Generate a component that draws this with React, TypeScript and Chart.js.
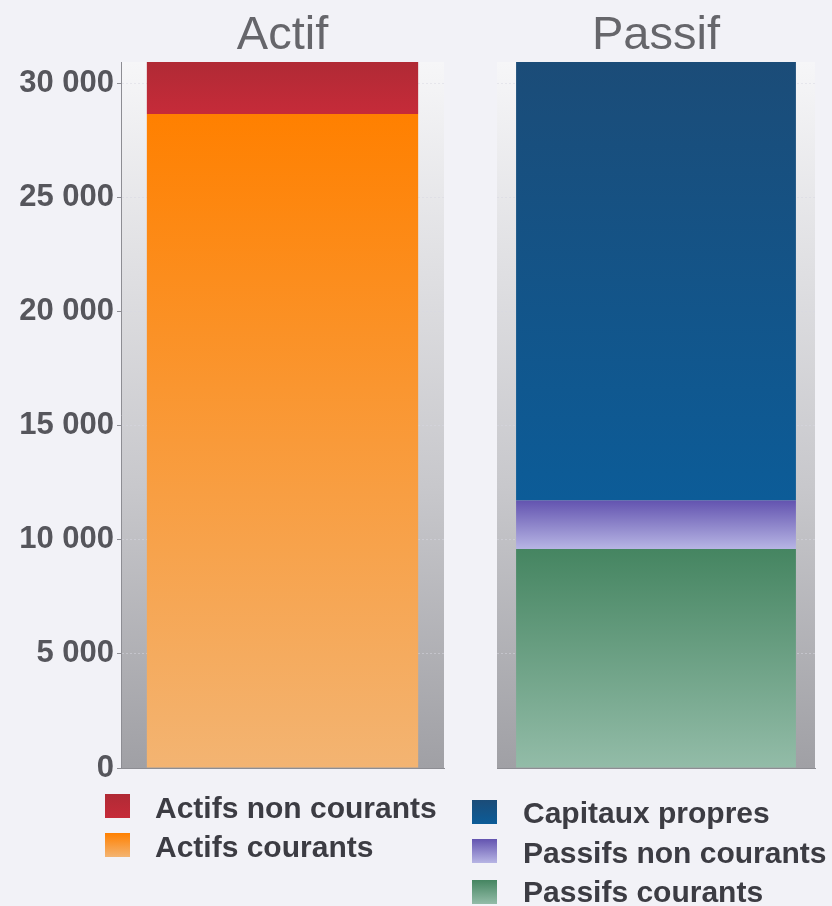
import React, { useEffect, useRef } from 'react';
import { Chart, registerables } from 'chart.js';

Chart.register(...registerables);
Chart.defaults.font.family = "'Liberation Sans', Arial, sans-serif";

// ---- Data ----
const TITLES = ['Actif', 'Passif'];
const CATEGORY = [''];
const ACTIF_SERIES = ['Actifs courants', 'Actifs non courants'];
const ACTIF_VALUES = [28640, 2280];
const PASSIF_SERIES = ['Passifs courants', 'Passifs non courants', 'Capitaux propres'];
const PASSIF_VALUES = [9590, 2120, 19210];
const Y_TICKS = [0, 5000, 10000, 15000, 20000, 25000, 30000];
const Y_MAX = 30920;

// ---- Styles ----
const ACTIF_COLORS = [
  ['#ff8000', '#f3b472'],
  ['#b02a35', '#c62b39'],
];
const PASSIF_COLORS = [
  ['#458561', '#93bca8'],
  ['#6354b0', '#b7b5e4'],
  ['#1b4c78', '#0c5c98'],
];
const ACTIF_LEGEND_ORDER = [1, 0];
const PASSIF_LEGEND_ORDER = [2, 1, 0];

const BG = '#f2f2f7';

const fmt = (v: number) => String(v).replace(/\B(?=(\d{3})+(?!\d))/g, ' ');

type PanelCfg = {
  left: number;
  width: number;
  title: string;
  series: string[];
  values: number[];
  colors: string[][];
  legendOrder: number[];
  padding: { left: number; right: number; top: number; bottom: number };
  barPct: number;
  showAxis: boolean;
  legend: { boxX: number; boxTops: number[]; textX: number; baselines: number[] };
};

const PANELS: PanelCfg[] = [
  {
    left: 0,
    width: 450,
    title: TITLES[0],
    series: ACTIF_SERIES,
    values: ACTIF_VALUES,
    colors: ACTIF_COLORS,
    legendOrder: ACTIF_LEGEND_ORDER,
    padding: { left: 0, right: 6, top: 62, bottom: 138 },
    barPct: 0.84,
    showAxis: true,
    legend: { boxX: 105, boxTops: [794, 833], textX: 155, baselines: [818, 857] },
  },
  {
    left: 450,
    width: 382,
    title: TITLES[1],
    series: PASSIF_SERIES,
    values: PASSIF_VALUES,
    colors: PASSIF_COLORS,
    legendOrder: PASSIF_LEGEND_ORDER,
    padding: { left: 47, right: 17, top: 62, bottom: 138 },
    barPct: 0.88,
    showAxis: false,
    legend: { boxX: 22, boxTops: [800, 839, 880], textX: 73, baselines: [823, 863, 902] },
  },
];

function Panel({ cfg }: { cfg: PanelCfg }) {
  const ref = useRef<HTMLCanvasElement | null>(null);

  useEffect(() => {
    if (!ref.current) return;
    const starts: number[] = [];
    let acc = 0;
    cfg.values.forEach((v) => {
      starts.push(acc);
      acc += v;
    });

    const datasets = cfg.series.map((name, i) => ({
      label: name,
      data: [cfg.values[i]],
      borderWidth: 0,
      categoryPercentage: 1,
      barPercentage: cfg.barPct,
      backgroundColor: (c: any) => {
        const chart = c.chart;
        const area = chart.chartArea;
        const [top, bottom] = cfg.colors[i];
        if (!area) return top;
        const y = chart.scales.y;
        const y0 = y.getPixelForValue(starts[i] + cfg.values[i]);
        const y1 = y.getPixelForValue(starts[i]);
        if (!isFinite(y0) || !isFinite(y1) || y0 === y1) return top;
        const g = chart.ctx.createLinearGradient(0, y0, 0, y1);
        g.addColorStop(0, top);
        g.addColorStop(1, bottom);
        return g;
      },
    }));

    const deco = {
      id: 'deco',
      beforeDraw(chart: any) {
        const { ctx, chartArea: a } = chart;
        const g = ctx.createLinearGradient(0, a.top, 0, a.bottom);
        g.addColorStop(0, '#f6f6f8');
        g.addColorStop(0.6, '#c8c8cc');
        g.addColorStop(1, '#a0a0a5');
        ctx.save();
        ctx.fillStyle = g;
        ctx.fillRect(a.left, a.top, a.right - a.left, a.bottom - a.top);
        ctx.restore();
      },
      afterDraw(chart: any) {
        const { ctx, chartArea: a } = chart;
        ctx.save();
        ctx.fillStyle = '#66666b';
        ctx.font = "47px 'Liberation Sans', Arial, sans-serif";
        ctx.textAlign = 'center';
        ctx.textBaseline = 'alphabetic';
        ctx.fillText(cfg.title, (a.left + a.right) / 2, 49);
        ctx.textAlign = 'left';
        ctx.font = "bold 30px 'Liberation Sans', Arial, sans-serif";
        cfg.legendOrder.forEach((idx, row) => {
          const bx = cfg.legend.boxX;
          const by = cfg.legend.boxTops[row];
          const [top, bottom] = cfg.colors[idx];
          const g = ctx.createLinearGradient(0, by, 0, by + 24);
          g.addColorStop(0, top);
          g.addColorStop(1, bottom);
          ctx.fillStyle = g;
          ctx.fillRect(bx, by, 25, 24);
          ctx.fillStyle = '#3c3c43';
          ctx.fillText(cfg.series[idx], cfg.legend.textX, cfg.legend.baselines[row]);
        });
        ctx.restore();
      },
    };

    const chart = new Chart(ref.current, {
      type: 'bar',
      data: { labels: CATEGORY, datasets },
      options: {
        animation: false,
        responsive: false,
        maintainAspectRatio: false,
        layout: { padding: cfg.padding },
        plugins: {
          legend: { display: false },
          title: { display: false },
          tooltip: { enabled: false },
        },
        scales: {
          x: {
            stacked: true,
            grid: { display: false },
            ticks: { display: false },
            border: { display: true, color: '#8d8d93', width: 1 },
            afterFit: (s: any) => {
              s.height = 0;
            },
          },
          y: {
            stacked: true,
            min: 0,
            max: Y_MAX,
            afterBuildTicks: (s: any) => {
              s.ticks = Y_TICKS.map((v) => ({ value: v }));
            },
            afterFit: (s: any) => {
              s.width = cfg.showAxis ? 121 : 0;
            },
            grid: {
              display: true,
              color: 'rgba(215,215,225,0.5)',
              tickColor: '#8d8d93',
              tickLength: 4,
              drawTicks: cfg.showAxis,
            },
            border: { display: cfg.showAxis, color: '#8d8d93', width: 1, dash: [2, 2] },
            ticks: {
              display: cfg.showAxis,
              padding: 3,
              color: '#56565c',
              font: { size: 31, weight: 'bold' },
              callback: (v: any) => fmt(Number(v)),
            },
          },
        },
      } as any,
      plugins: [deco],
    });
    return () => chart.destroy();
  }, [cfg]);

  return (
    <canvas
      ref={ref}
      width={cfg.width}
      height={906}
      style={{ position: 'absolute', left: cfg.left, top: 0, width: cfg.width, height: 906 }}
    />
  );
}

export default function App() {
  return (
    <div
      style={{
        position: 'absolute',
        left: 0,
        top: 0,
        width: 832,
        height: 906,
        background: BG,
        overflow: 'hidden',
      }}
    >
      {PANELS.map((p) => (
        <Panel key={p.title} cfg={p} />
      ))}
    </div>
  );
}
